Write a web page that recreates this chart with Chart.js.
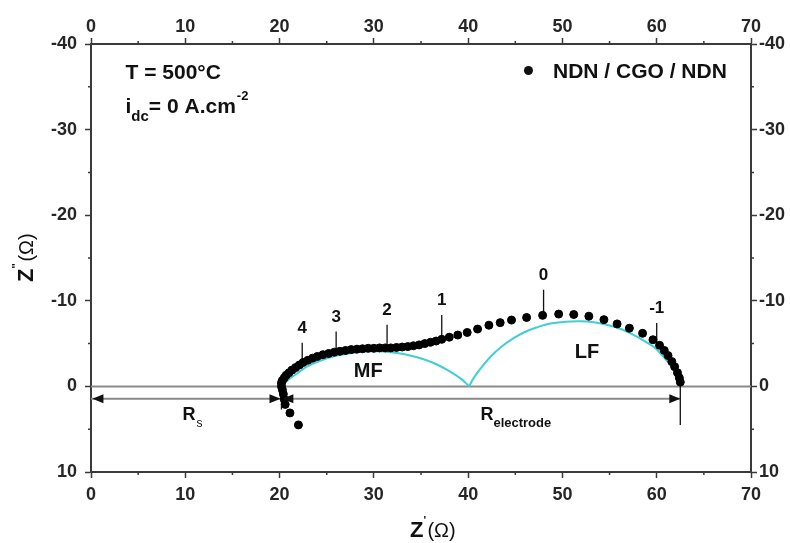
<!DOCTYPE html>
<html><head><meta charset="utf-8">
<script src="https://cdn.jsdelivr.net/npm/chart.js@4.4.0/dist/chart.umd.min.js"></script>
<style>html,body{margin:0;padding:0;background:#fff}#wrap{width:790px;height:543px;position:relative}</style>
</head><body><div id="wrap"><canvas id="c" width="790" height="543"></canvas></div>
<script>
// ---- data ----
const measuredX = [22.0,21.1,20.6,20.5,20.4,20.3,20.2,
  20.2,20.3,20.5,20.7,21.0,21.3,21.7,22.1,22.5,23.0,23.5,24.0,24.6,25.2,25.8,26.4,27.0,27.6,28.2,28.8,29.4,30.0,30.6,31.2,31.8,32.4,33.0,33.6,34.2,34.8,35.4,36.0,36.6,37.2,38.0,38.9,39.9,41.0,42.2,43.4,44.6,46.2,47.9,49.6,51.2,52.8,54.4,55.8,57.1,58.5,59.6,60.3,60.8,61.2,61.6,61.9,62.2,62.4,62.5];
const measuredY = [4.5,3.1,2.1,1.5,0.9,0.4,0.0,
  -0.4,-0.7,-1.0,-1.3,-1.6,-1.9,-2.2,-2.5,-2.8,-3.05,-3.3,-3.5,-3.7,-3.85,-4.0,-4.1,-4.2,-4.3,-4.35,-4.4,-4.45,-4.45,-4.5,-4.5,-4.5,-4.55,-4.6,-4.65,-4.75,-4.85,-5.0,-5.15,-5.3,-5.5,-5.75,-6.0,-6.3,-6.7,-7.15,-7.45,-7.75,-8.05,-8.3,-8.45,-8.4,-8.2,-7.8,-7.3,-6.8,-6.2,-5.45,-4.8,-4.2,-3.6,-2.9,-2.3,-1.6,-1.0,-0.5];
const mfFitX = [20.3,20.45,21.0,21.9,22.9,24.3,26.1,28.2,30.2,31.8,33.5,35.2,36.8,38.2,39.3,40.1];
const mfFitY = [0,-0.3,-0.85,-1.55,-2.3,-3.0,-3.6,-4.0,-4.1,-4.0,-3.7,-3.2,-2.5,-1.65,-0.85,0];
const lfFitX = [40.1,40.6,41.4,42.4,43.5,44.7,45.9,47.3,48.7,50.3,51.9,53.3,54.7,56.2,57.6,58.7,59.7,60.6,61.45,62.1,62.5];
const lfFitY = [0,-1.0,-2.2,-3.5,-4.6,-5.55,-6.3,-6.9,-7.35,-7.55,-7.6,-7.5,-7.2,-6.7,-6.0,-5.3,-4.6,-3.6,-2.5,-1.5,-0.6];
const freqLabels = ['4','3','2','1','0','-1'];
const freqX = [22.4,26.0,31.4,37.2,48.0,60.0];
const freqTop = [-5.1,-6.4,-7.2,-8.35,-11.3,-7.4];
const freqBottom = [-2.75,-4.05,-4.5,-5.7,-8.35,-4.85];
const rsValue = 20.2;
const rElectrodeEnd = 62.5;
const xTickValues = [0,10,20,30,40,50,60,70];
const yTickValues = [-40,-30,-20,-10,0,10];
const legendLabel = 'NDN / CGO / NDN';

// ---- chart ----
const pts = (xs, ys) => xs.map((x,i)=>({x:x, y:ys[i]}));
const FONT = "'Liberation Sans', Arial, sans-serif";
const AX = '#3a3a3a';
const arrowY = 1.45;

const lineDs = (data, color, width, order) => ({type:'scatter', data, showLine:true, borderColor:color, borderWidth:width, pointRadius:0, fill:false, order});

const datasets = [
  {type:'scatter', label:legendLabel, data:pts(measuredX, measuredY), backgroundColor:'#000', borderColor:'#000', pointRadius:4, pointHoverRadius:4, showLine:false, order:0},
  Object.assign(lineDs(pts(mfFitX, mfFitY), '#3fd0d4', 2, 1), {tension:0.4}),
  Object.assign(lineDs(pts(lfFitX, lfFitY), '#3fd0d4', 2, 1), {tension:0.4}),
  lineDs([{x:0,y:0},{x:70,y:0}], '#8a8a8a', 2, 3),
  lineDs([{x:0,y:arrowY},{x:rElectrodeEnd,y:arrowY}], '#8a8a8a', 2, 3),
  lineDs([{x:rElectrodeEnd,y:-0.5},{x:rElectrodeEnd,y:4.5}], '#111', 1.3, 2),
  lineDs([{x:rsValue,y:-0.4},{x:rsValue,y:2.7}], '#111', 1.3, 2),
];
freqX.forEach((fx,i)=>datasets.push(lineDs([{x:fx,y:freqTop[i]},{x:fx,y:freqBottom[i]}], '#111', 1.3, 2)));

function fitW(w){ return s => { s.width = w; }; }
function fitH(h){ return s => { s.height = h; }; }
const tickCb = v => (Math.abs(v % 10) < 1e-9 ? String(v) : '');
const majorColor = c => (c.tick && Math.abs(c.tick.value % 10) < 1e-9 ? AX : 'rgba(0,0,0,0)');

function axis(pos, min, max, pad, extra) {
  return Object.assign({
    type:'linear', position:pos, min, max,
    ticks:{stepSize:5, autoSkip:false, maxRotation:0, callback:tickCb, color:'#262626', font:{family:FONT, size:18, weight:'bold'}, padding:pad},
    grid:{drawOnChartArea:false, drawTicks:true, tickLength:6, tickColor:majorColor, tickWidth:1.5},
    border:{display:true, color:AX, width:2}
  }, extra);
}

function txt(ctx, s, x, y, font, align) {
  ctx.font = font; ctx.textAlign = align || 'left'; ctx.textBaseline = 'alphabetic';
  ctx.fillText(s, x, y); return ctx.measureText(s).width;
}

const annot = {
  id:'annot',
  beforeDatasetsDraw(chart) {
    const ctx = chart.ctx, a = chart.chartArea, sx = chart.scales.x, sy = chart.scales.y;
    ctx.save(); ctx.strokeStyle = AX; ctx.lineWidth = 1.5;
    for (let v = 5; v < 70; v += 10) {
      const px = sx.getPixelForValue(v);
      ctx.beginPath(); ctx.moveTo(px, a.bottom); ctx.lineTo(px, a.bottom+3);
      ctx.moveTo(px, a.top); ctx.lineTo(px, a.top-3); ctx.stroke();
    }
    for (let v = -35; v < 10; v += 10) {
      const py = sy.getPixelForValue(v);
      ctx.beginPath(); ctx.moveTo(a.left, py); ctx.lineTo(a.left-3, py);
      ctx.moveTo(a.right, py); ctx.lineTo(a.right+3, py); ctx.stroke();
    }
    ctx.restore();
  },
  afterDatasetsDraw(chart) {
    const ctx = chart.ctx, sx = chart.scales.x, sy = chart.scales.y;
    const X = v => sx.getPixelForValue(v), Y = v => sy.getPixelForValue(v);
    ctx.save();
    ctx.fillStyle = '#111';
    const head = (xv, dir) => {
      const tx = X(xv), ty = Y(arrowY);
      ctx.beginPath(); ctx.moveTo(tx, ty); ctx.lineTo(tx - dir*11, ty-4.5); ctx.lineTo(tx - dir*11, ty+4.5); ctx.closePath(); ctx.fill();
    };
    head(0.15, -1); head(rsValue-0.1, 1); head(rsValue+0.1, -1); head(rElectrodeEnd, 1);
    freqLabels.forEach((l,i)=>{ txt(ctx, l, X(freqX[i]), Y(freqTop[i]) - 10, 'bold 17px '+FONT, 'center'); });
    txt(ctx, 'MF', X(29.4), Y(-1.13), 'bold 20px '+FONT, 'center');
    txt(ctx, 'LF', X(52.6), Y(-3.35), 'bold 20px '+FONT, 'center');
    let w = txt(ctx, 'R', X(9.7), Y(3.9), 'bold 18px '+FONT);
    txt(ctx, 's', X(9.7)+w+1, Y(3.9)+7, '12px '+FONT);
    w = txt(ctx, 'R', X(41.3), Y(3.9), 'bold 18px '+FONT);
    txt(ctx, 'electrode', X(41.3)+w, Y(3.9)+7, 'bold 13px '+FONT);
    const big = 'bold 21px '+FONT;
    txt(ctx, 'T = 500\u00B0C', X(3.66), Y(-35.9), big);
    let x0 = X(3.66), yb = Y(-31.9);
    x0 += txt(ctx, 'i', x0, yb, big);
    x0 += txt(ctx, 'dc', x0, yb+8, 'bold 15px '+FONT);
    x0 += txt(ctx, '= 0 A.cm', x0, yb, big);
    txt(ctx, '-2', x0+1, yb-13, 'bold 13px '+FONT);
    ctx.beginPath(); ctx.arc(X(46.4), Y(-36.9), 4.5, 0, Math.PI*2); ctx.fill();
    txt(ctx, legendLabel, X(49.0), Y(-36.0), big);
    ctx.restore();
  },
  afterDraw(chart) {
    const ctx = chart.ctx;
    ctx.save(); ctx.fillStyle = '#111';
    let x0 = 410, yb = 537;
    x0 += txt(ctx, 'Z', x0, yb, 'bold 22px '+FONT);
    txt(ctx, "'", x0, yb-13, 'bold 11px '+FONT);
    txt(ctx, '(\u03A9)', x0+4, yb, '20px '+FONT);
    ctx.translate(33, 282); ctx.rotate(-Math.PI/2);
    let p = txt(ctx, 'Z', 0, 0, 'bold 22px '+FONT);
    txt(ctx, "''", p, -13, 'bold 11px '+FONT);
    txt(ctx, '(\u03A9)', p+7, 0, '20px '+FONT);
    ctx.restore();
  }
};

new Chart(document.getElementById('c'), {
  type:'scatter',
  data:{datasets},
  options:{
    responsive:false, animation:false, devicePixelRatio:1,
    layout:{padding:0},
    plugins:{legend:{display:false}, tooltip:{enabled:false}},
    scales:{
      x: axis('bottom', 0, 70, 6, {afterFit:fitH(71)}),
      x2: axis('top', 0, 70, 0, {afterFit:fitH(44)}),
      y: axis('left', -40, 10, 8, {reverse:true, afterFit:fitW(91)}),
      y2: axis('right', -40, 10, 2, {reverse:true, afterFit:fitW(39)})
    }
  },
  plugins:[annot]
});
</script>
</body></html>
